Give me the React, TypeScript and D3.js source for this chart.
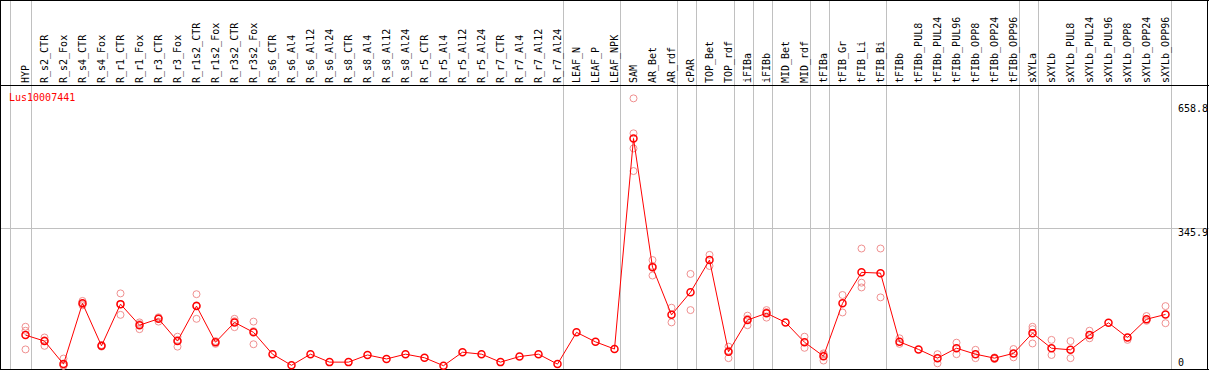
import React from "react";
import * as d3 from "d3";

const categories = [
  "HYP", "R_s2_CTR", "R_s2_Fox", "R_s4_CTR", "R_s4_Fox", "R_r1_CTR", "R_r1_Fox", "R_r3_CTR", "R_r3_Fox",
  "R_r1s2_CTR", "R_r1s2_Fox", "R_r3s2_CTR", "R_r3s2_Fox", "R_s6_CTR", "R_s6_Al4", "R_s6_Al12", "R_s6_Al24",
  "R_s8_CTR", "R_s8_Al4", "R_s8_Al12", "R_s8_Al24", "R_r5_CTR", "R_r5_Al4", "R_r5_Al12", "R_r5_Al24",
  "R_r7_CTR", "R_r7_Al4", "R_r7_Al12", "R_r7_Al24", "LEAF_N", "LEAF_P", "LEAF_NPK", "SAM", "AR_Bet", "AR_rdf",
  "cPAR", "TOP_Bet", "TOP_rdf", "iFIBa", "iFIBb", "MID_Bet", "MID_rdf", "tFIBa", "tFIB_Gr", "tFIB_Li", "tFIB_Bi",
  "tFIBb", "tFIBb_PUL8", "tFIBb_PUL24", "tFIBb_PUL96", "tFIBb_OPP8", "tFIBb_OPP24", "tFIBb_OPP96",
  "sXYLa", "sXYLb", "sXYLb_PUL8", "sXYLb_PUL24", "sXYLb_PUL96", "sXYLb_OPP8", "sXYLb_OPP24", "sXYLb_OPP96",
];

const means = [
  77, 62, 4, 157, 50, 155, 102, 118, 62,
  150, 59, 109, 84, 29, 1, 29, 9,
  9, 27, 17, 29, 20, 0, 34, 29,
  9, 23, 29, 4, 84, 60, 42, 572, 248, 128,
  185, 266, 35, 115, 132, 109, 59, 24, 157, 235, 233,
  60, 41, 19, 44, 29, 19, 31,
  82, 44, 40, 77, 108, 71, 117, 129,
];

const replicates: number[][] = [
  [98, 88, 41], [71, 50, 64], [18, 0, 0], [163, 155, 152], [52, 48], [182, 128, 155], [109, 92, 105], [111, 120, 122], [73, 48, 65],
  [180, 118, 152], [62, 55], [118, 97, 112], [111, 54, 87], [], [], [], [],
  [], [], [], [], [], [], [], [],
  [], [], [], [], [], [], [], [673, 585, 547, 490], [266, 227, 251], [146, 109],
  [231, 140], [279, 251], [48, 19, 38], [126, 102, 118], [140, 121, 135], [], [73, 45], [31, 13, 28], [178, 134], [295, 209, 197], [295, 172],
  [69, 55], [], [29, 6], [58, 29], [40, 19], [21, 17], [42, 21],
  [98, 56, 92], [65, 27], [62, 19], [88, 69], [], [65], [125, 113], [150, 107],
];

const groupEnds = [
  "HYP", "R_r7_Al24", "LEAF_NPK", "AR_rdf", "cPAR", "TOP_rdf", "iFIBa", "iFIBb",
  "MID_rdf", "tFIBa", "tFIB_Bi", "tFIBb_OPP96", "sXYLa", "sXYLb_OPP96",
];

const yTicks = [658.8, 345.9, 0];
const gridTicks = [345.9];
const geneName = "Lus10007441";

const W = 1209;
const H = 370;
const FONT = "'DejaVu Sans Mono', 'Liberation Mono', monospace";

export default function App() {
  const x = d3.scalePoint<string>().domain(categories).range([25.5, 1165.5]);
  const y = d3.scaleLinear().domain([0, 658.8]).range([365.7, 104]);
  const line = d3
    .line<number>()
    .x((_, i) => x(categories[i]) as number)
    .y((d) => y(d));

  const headerY = 85.5;
  const gridColor = "#c0c0c0";

  return (
    <div style={{ position: "absolute", left: 0, top: 0 }}>
      <svg width={W} height={H} style={{ display: "block", background: "#fff" }}>
        {/* vertical group gridlines */}
        <line x1={10.5} x2={10.5} y1={0} y2={H} stroke={gridColor} shapeRendering="crispEdges" />
        {groupEnds.map((c) => {
          const gx = Math.round((x(c) as number) + 5) + 0.5;
          return <line key={c} x1={gx} x2={gx} y1={0} y2={H} stroke={gridColor} shapeRendering="crispEdges" />;
        })}
        {/* horizontal gridlines */}
        {gridTicks.map((t) => {
          const gy = Math.round(y(t)) + 0.5;
          return <line key={t} x1={0} x2={W} y1={gy} y2={gy} stroke={gridColor} shapeRendering="crispEdges" />;
        })}
        {/* frame */}
        <line x1={0} x2={W} y1={0.5} y2={0.5} stroke="#000" shapeRendering="crispEdges" />
        <line x1={0} x2={W} y1={headerY} y2={headerY} stroke="#000" shapeRendering="crispEdges" />
        <line x1={0} x2={W} y1={369.5} y2={369.5} stroke="#000" shapeRendering="crispEdges" />
        <line x1={0.5} x2={0.5} y1={0} y2={H} stroke="#000" shapeRendering="crispEdges" />
        <line x1={1207.5} x2={1207.5} y1={0} y2={H} stroke="#000" shapeRendering="crispEdges" />

        {/* category labels */}
        {categories.map((c) => (
          <text
            key={c}
            transform={`translate(${(x(c) as number) + 3},83) rotate(-90)`}
            fontFamily={FONT}
            fontSize={10}
            fill="#000"
          >
            {c}
          </text>
        ))}

        {/* y tick labels */}
        {yTicks.map((t) => (
          <text
            key={t}
            x={1178}
            y={t === 0 ? y(t) : y(t) + 7.5}
            fontFamily={FONT}
            fontSize={10}
            fill="#000"
          >
            {t}
          </text>
        ))}

        {/* gene name */}
        <text x={9} y={101} fontFamily={FONT} fontSize={10} fill="#ff0000">
          {geneName}
        </text>

        {/* replicate points */}
        {replicates.map((reps, i) =>
          reps.map((v, j) => (
            <circle
              key={`${i}-${j}`}
              cx={x(categories[i]) as number}
              cy={y(v)}
              r={3.5}
              fill="none"
              stroke="#f09090"
              strokeWidth={1}
            />
          ))
        )}

        {/* mean line */}
        <path d={line(means) || ""} fill="none" stroke="#ff0000" strokeWidth={1} />

        {/* mean points */}
        {means.map((v, i) => (
          <circle
            key={i}
            cx={x(categories[i]) as number}
            cy={y(v)}
            r={3.5}
            fill="none"
            stroke="#ff0000"
            strokeWidth={1.5}
          />
        ))}
      </svg>
    </div>
  );
}
